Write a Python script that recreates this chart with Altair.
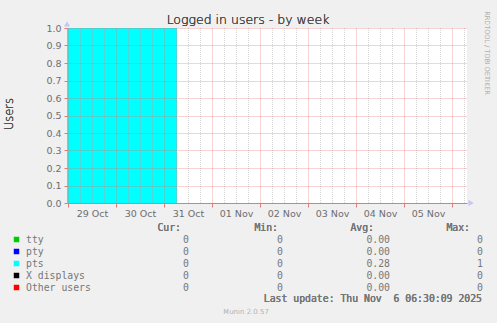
import altair as alt
import pandas as pd

# ---- data ----
series_names = ["tty", "pty", "pts", "X displays", "Other users"]
series_colors = ["#00cc00", "#0000ff", "#00ffff", "#000000", "#ff0000"]
cur_vals = [0, 0, 0, 0, 0]
min_vals = [0, 0, 0, 0, 0]
avg_vals = [0.00, 0.00, 0.28, 0.00, 0.00]
max_vals = [0, 0, 1, 0, 0]

# pts series change points (step-after)
pts_times = ["2025-10-28T23:30:00Z", "2025-10-31T06:30:00Z", "2025-11-06T07:30:00Z"]
pts_values = [1, 0, 0]

range_start = "2025-10-28T23:30:00Z"
range_end = "2025-11-06T07:30:00Z"
day_ticks = ["2025-10-29", "2025-10-30", "2025-10-31", "2025-11-01", "2025-11-02",
             "2025-11-03", "2025-11-04", "2025-11-05", "2025-11-06"]
headers = ["Cur:", "Min:", "Avg:", "Max:"]
title_text = "Logged in users - by week"
y_title = "Users"
last_update = "Last update: Thu Nov \u00a06 06:30:09 2025"
version_text = "Munin 2.0.57"
side_text = "RRDTOOL / TOBI OETIKER"

W, H = 400, 175
MONO = "DejaVu Sans Mono"
SANS = "DejaVu Sans"
TXT = "#6e6e6e"
MONO_TXT = "#777777"


def ms(s):
    ts = pd.Timestamp(s)
    if ts.tzinfo is None:
        ts = ts.tz_localize("UTC")
    return int(ts.value // 10**6)


day_ms = [ms(d) for d in day_ticks]
minor_ms = []
for d in day_ms[:-1]:
    for h in (6, 12, 18):
        minor_ms.append(d + h * 3600 * 1000)
minor_ms.append(day_ms[-1] + 6 * 3600 * 1000)

xscale = alt.Scale(type="utc", domain=[ms(range_start), ms(range_end)])

pts_df = pd.DataFrame({"t": pts_times, "v": pts_values})
minor_df = pd.DataFrame({"t": minor_ms})

area = alt.Chart(pts_df).mark_area(interpolate="step-after", color="#00ffff", opacity=1).encode(
    x=alt.X("t:T", scale=xscale, title=None,
            axis=alt.Axis(values=day_ms, grid=True, gridColor="#e27070", gridOpacity=0.6,
                          gridDash=[1, 1], zindex=1, domainColor="#e37a7a", tickColor="#e37a7a",
                          tickSize=4, labelOffset=24, labelPadding=1,
                          labelExpr="datum.value >= %d ? '' : utcFormat(datum.value, '%%d %%b')" % day_ms[-1],
                          labelFont=SANS, labelFontSize=9.5, labelColor=TXT, labelFlush=False,
                          labelOverlap=False, labelFontWeight="normal")),
    y=alt.Y("v:Q", scale=alt.Scale(domain=[0, 1]), title=None,
            axis=alt.Axis(values=[i / 10 for i in range(11)], format=".1f", grid=True,
                          gridColor="#e27070", gridOpacity=0.6, gridDash=[1, 1], zindex=1,
                          domain=False, tickColor="#e37a7a", tickSize=3, labelPadding=3,
                          labelFont=SANS, labelFontSize=9.5, labelColor=TXT,
                          labelFontWeight="normal")),
)

minor = alt.Chart(minor_df).mark_rule(color="#a0a0a0", strokeDash=[1, 1], opacity=0.45, xOffset=0.5).encode(
    x=alt.X("t:T"),
    y=alt.value(0), y2=alt.value(H),
)

arrow_up = alt.Chart(pts_df).mark_point(shape="triangle-up", filled=True, color="#c8c8f5",
                                        opacity=1, size=28).encode(
    x=alt.value(0), y=alt.value(-4))
arrow_right = alt.Chart(pts_df).mark_point(shape="triangle-right", filled=True, color="#c8c8f5",
                                           opacity=1, size=28).encode(
    x=alt.value(W + 4), y=alt.value(H))

title = alt.Chart(pts_df).mark_text(text=title_text, font=SANS, fontSize=12.5, color="#444444",
                                    fontWeight=300, align="center", baseline="alphabetic").encode(
    x=alt.value(181), y=alt.value(-4))
ytitle = alt.Chart(pts_df).mark_text(text=y_title, font=SANS, fontSize=11.5, color="#444444", angle=270,
                                     fontWeight=300, align="center", baseline="middle").encode(
    x=alt.value(-57), y=alt.value(86))
side = alt.Chart(pts_df).mark_text(text=side_text, font=SANS, fontSize=6.5, color="#b5b5b5", angle=90,
                                   fontWeight=300, align="center", baseline="middle").encode(
    x=alt.value(420), y=alt.value(25))

leg_df = pd.DataFrame({
    "idx": list(range(len(series_names))),
    "name": series_names, "color": series_colors,
    "cur": cur_vals, "min": min_vals, "avg": avg_vals, "max": max_vals,
})
leg = alt.Chart(leg_df).transform_calculate(py="211.5 + datum.idx * 12")
ypos = alt.Y("py:Q", scale=None)

squares = leg.mark_point(shape="square", filled=True, opacity=1, size=30, strokeWidth=0).encode(
    x=alt.value(-50.5), y=ypos, color=alt.Color("color:N", scale=None))
tstyle = dict(font=MONO, fontSize=9.8, color=MONO_TXT, baseline="middle", fontWeight="normal")
names = leg.mark_text(align="left", **tstyle).encode(x=alt.value(-41), y=ypos, text="name:N")
curt = leg.mark_text(align="right", **tstyle).encode(x=alt.value(122), y=ypos, text=alt.Text("cur:Q", format="d"))
mint = leg.mark_text(align="right", **tstyle).encode(x=alt.value(216), y=ypos, text=alt.Text("min:Q", format="d"))
avgt = leg.mark_text(align="right", **tstyle).encode(x=alt.value(323), y=ypos, text=alt.Text("avg:Q", format=".2f"))
maxt = leg.mark_text(align="right", **tstyle).encode(x=alt.value(416), y=ypos, text=alt.Text("max:Q", format="d"))

hx = [114, 211, 307, 403]
hdr = [alt.Chart(pts_df).mark_text(text=h, align="right", **tstyle).encode(x=alt.value(x), y=alt.value(200))
       for h, x in zip(headers, hx)]
lu = alt.Chart(pts_df).mark_text(text=last_update, align="right", **tstyle).encode(
    x=alt.value(415), y=alt.value(271))
ver = alt.Chart(pts_df).mark_text(text=version_text, font=SANS, fontSize=7, color="#bbbbbb",
                                  fontWeight=300, align="center", baseline="middle").encode(
    x=alt.value(179), y=alt.value(284))

chart = alt.layer(
    area, minor, arrow_up, arrow_right, title, ytitle, side,
    squares, names, curt, mint, avgt, maxt, *hdr, lu, ver
).resolve_scale(y="independent").properties(
    width=W, height=H,
    autosize=alt.AutoSizeParams(type="none"),
    padding={"left": 67, "top": 28, "right": 30, "bottom": 120},
    background="#f0f0f0",
).configure_view(fill="white", stroke=None)

chart.save("out.html", embed_options={"renderer": "svg", "actions": False})
